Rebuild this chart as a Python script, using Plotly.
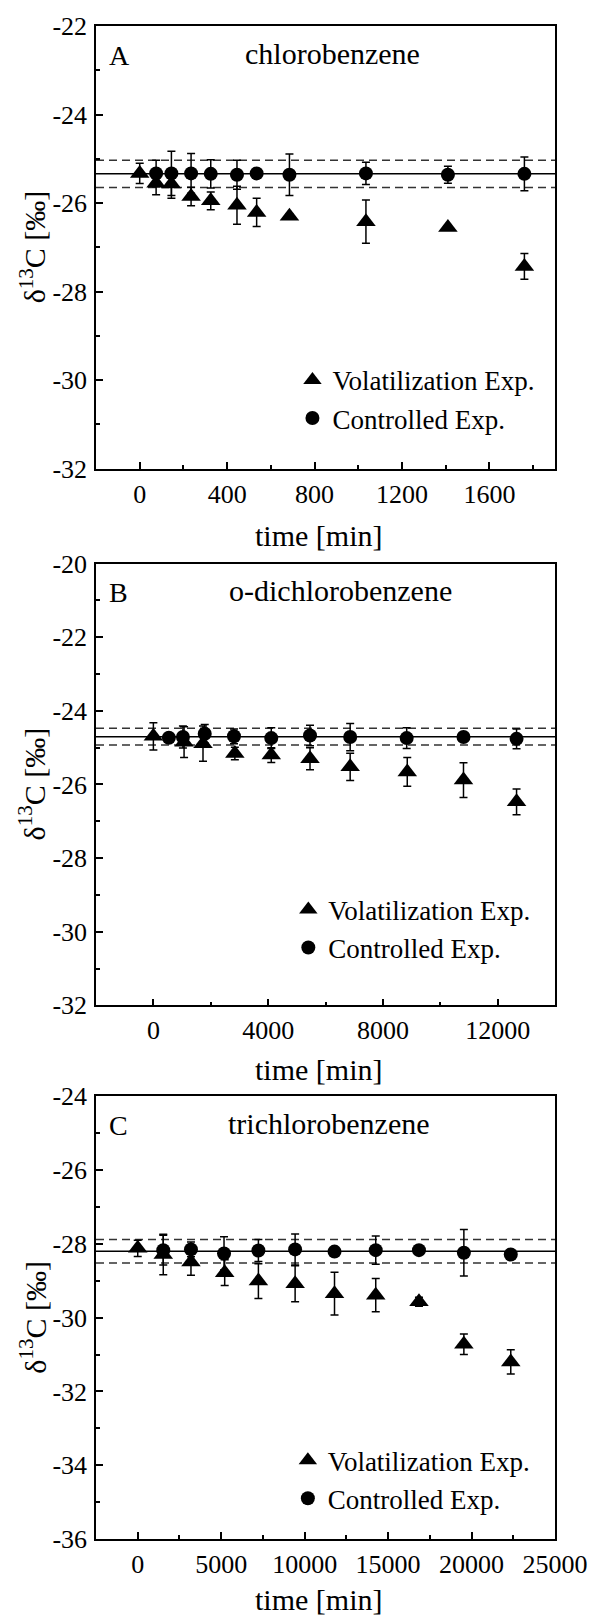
import plotly.graph_objects as go

FONT = "Liberation Serif, Times New Roman, serif"

# ---------------- Panel A: chlorobenzene ----------------
time_vol_A = [0, 75, 145, 235, 325, 445, 535, 685, 1035, 1410, 1760]
d13C_vol_A = [-25.33, -25.55, -25.57, -25.85, -25.95, -26.05, -26.21, -26.30, -26.42, -26.55, -27.43]
err_vol_A = [0.23, 0.26, 0.32, 0.21, 0.20, 0.43, 0.32, 0.05, 0.49, 0.04, 0.29]
time_con_A = [75, 145, 235, 325, 445, 535, 685, 1035, 1410, 1760]
d13C_con_A = [-25.33, -25.33, -25.33, -25.34, -25.36, -25.33, -25.36, -25.33, -25.36, -25.34]
err_con_A = [0.30, 0.50, 0.45, 0.32, 0.33, 0.08, 0.47, 0.25, 0.19, 0.38]

# ---------------- Panel B: o-dichlorobenzene ----------------
time_vol_B = [0, 1070, 1730, 2840, 4110, 5460, 6860, 8850, 10810, 12660]
d13C_vol_B = [-24.69, -24.85, -24.89, -25.16, -25.20, -25.30, -25.52, -25.66, -25.88, -26.47]
err_vol_B = [0.37, 0.42, 0.48, 0.17, 0.20, 0.30, 0.37, 0.39, 0.47, 0.35]
time_con_B = [540, 1030, 1790, 2810, 4110, 5460, 6860, 8830, 10810, 12660]
d13C_con_B = [-24.73, -24.71, -24.62, -24.69, -24.74, -24.67, -24.71, -24.74, -24.71, -24.76]
err_con_B = [0.10, 0.30, 0.25, 0.20, 0.28, 0.28, 0.37, 0.28, 0.10, 0.27]

# ---------------- Panel C: trichlorobenzene ----------------
time_vol_C = [0, 1530, 3190, 5210, 7230, 9430, 11790, 14260, 16850, 19540, 22350]
d13C_vol_C = [-28.12, -28.29, -28.49, -28.78, -29.01, -29.08, -29.35, -29.39, -29.57, -30.72, -31.20]
err_vol_C = [0.22, 0.55, 0.36, 0.35, 0.47, 0.49, 0.58, 0.45, 0.12, 0.28, 0.33]
time_con_C = [1530, 3190, 5170, 7230, 9430, 11790, 14260, 16850, 19540, 22350]
d13C_con_C = [-28.17, -28.15, -28.26, -28.18, -28.15, -28.21, -28.17, -28.17, -28.24, -28.29]
err_con_C = [0.40, 0.20, 0.45, 0.30, 0.42, 0.03, 0.38, 0.03, 0.63, 0.10]

# Mean of controlled experiment and its uncertainty band (horizontal lines)
mean_lines = [-25.34, -24.70, -28.20]
sd_lines = [0.31, 0.23, 0.32]

# Text
panel_letters = ["A", "B", "C"]
panel_names = ["chlorobenzene", "o-dichlorobenzene", "trichlorobenzene"]
series_names = ["Volatilization Exp.", "Controlled Exp."]
x_title = "time [min]"
y_title = "δ<sup>13</sup>C [‰]"

# Axes
x_ranges = [[-200, 1900], [-2000, 14000], [-2500, 25000]]
x_tickvals = [[0, 400, 800, 1200, 1600], [0, 4000, 8000, 12000],
              [0, 5000, 10000, 15000, 20000, 25000]]
x_ticktext = [["0", "400", "800", "1200", "1600"], ["0", "4000", "8000", "12000"],
              ["0", "5000", "10000", "15000", "20000", "25000"]]
x_minor = [200, 2000, 2500]
y_ranges = [[-32, -22], [-32, -20], [-36, -24]]
y_tickvals = [[-32, -30, -28, -26, -24, -22], [-32, -30, -28, -26, -24, -22, -20],
              [-36, -34, -32, -30, -28, -26, -24]]
y_ticktext = [["-32", "-30", "-28", "-26", "-24", "-22"],
              ["-32", "-30", "-28", "-26", "-24", "-22", "-20"],
              ["-36", "-34", "-32", "-30", "-28", "-26", "-24"]]

vol_t = [time_vol_A, time_vol_B, time_vol_C]
vol_y = [d13C_vol_A, d13C_vol_B, d13C_vol_C]
vol_e = [err_vol_A, err_vol_B, err_vol_C]
con_t = [time_con_A, time_con_B, time_con_C]
con_y = [d13C_con_A, d13C_con_B, d13C_con_C]
con_e = [err_con_A, err_con_B, err_con_C]

# Layout geometry (pixels)
W, H = 600, 1620
ML, MR, MT, MB = 96, 37, 25, 81
PH = H - MT - MB
panel_px = [(25, 468), (563, 1005), (1096, 1539)]
domains = [[(H - MB - b) / PH, (H - MB - t) / PH] for t, b in panel_px]
legend_pos = [(0.428, 0.782), (0.419, 0.432), (0.418, 0.068)]
legend_keys = ["legend", "legend2", "legend3"]
name_x = [0.515, 0.532, 0.507]
xtitle_shift = [-67, -64, -60]

fig = go.Figure()
layout = dict(
    width=W, height=H,
    margin=dict(l=ML, r=MR, t=MT, b=MB),
    paper_bgcolor="white", plot_bgcolor="white",
    font=dict(family=FONT, color="black", size=26),
    showlegend=True,
)
annotations = []
shapes = []

for i in range(3):
    sfx = "" if i == 0 else str(i + 1)
    xa, ya = "x" + sfx, "y" + sfx
    lg = legend_keys[i]
    fig.add_trace(go.Scatter(
        x=vol_t[i], y=vol_y[i], mode="markers", name=series_names[0],
        xaxis=xa, yaxis=ya, legend=lg,
        marker=dict(symbol="triangle-up", size=17, color="black"),
        error_y=dict(type="data", array=vol_e[i], visible=True, color="black",
                     thickness=1.5, width=4),
    ))
    fig.add_trace(go.Scatter(
        x=con_t[i], y=con_y[i], mode="markers", name=series_names[1],
        xaxis=xa, yaxis=ya, legend=lg,
        marker=dict(symbol="circle", size=14, color="black"),
        error_y=dict(type="data", array=con_e[i], visible=True, color="black",
                     thickness=1.5, width=4),
    ))
    axis_common = dict(
        showline=True, linecolor="black", linewidth=1.5, mirror=True,
        showgrid=False, zeroline=False, ticks="inside", ticklen=7,
        tickwidth=1.5, tickcolor="black",
        tickfont=dict(family=FONT, size=26, color="black"),
    )
    layout["xaxis" + sfx] = dict(
        axis_common, domain=[0, 1], anchor=ya, range=x_ranges[i],
        tickmode="array", tickvals=x_tickvals[i], ticktext=x_ticktext[i],
        minor=dict(tickmode="linear", tick0=0, dtick=x_minor[i], ticks="inside",
                   ticklen=4, tickwidth=1.5, tickcolor="black", showgrid=False),
        ticklabelstandoff=1,
    )
    layout["yaxis" + sfx] = dict(
        axis_common, domain=domains[i], anchor=xa, range=y_ranges[i],
        tickmode="array", tickvals=y_tickvals[i], ticktext=y_ticktext[i],
        minor=dict(tickmode="linear", tick0=0, dtick=1, ticks="inside",
                   ticklen=4, tickwidth=1.5, tickcolor="black", showgrid=False),
        ticklabelstandoff=2,
    )
    layout[lg] = dict(
        x=legend_pos[i][0], y=legend_pos[i][1], xanchor="left", yanchor="top",
        bgcolor="rgba(0,0,0,0)", borderwidth=0,
        font=dict(family=FONT, size=27, color="black"),
        itemwidth=30, tracegroupgap=0,
    )
    # horizontal mean / band lines
    m, s = mean_lines[i], sd_lines[i]
    shapes.append(dict(type="line", xref=xa + " domain", yref=ya, x0=0, x1=1,
                       y0=m, y1=m, line=dict(color="black", width=1.5), layer="below"))
    for yy in (m + s, m - s):
        shapes.append(dict(type="line", xref=xa + " domain", yref=ya, x0=0, x1=1,
                           y0=yy, y1=yy, line=dict(color="#333333", width=1.5, dash="8px,5px"),
                           layer="below"))
    # panel letter and compound name
    annotations.append(dict(text=panel_letters[i], xref=xa + " domain", yref=ya + " domain",
                            x=0.023, y=1, xanchor="left", yanchor="middle", yshift=-29,
                            showarrow=False, font=dict(family=FONT, size=28, color="black")))
    annotations.append(dict(text=panel_names[i], xref=xa + " domain", yref=ya + " domain",
                            x=name_x[i], y=1, xanchor="center", yanchor="middle", yshift=-27,
                            showarrow=False, font=dict(family=FONT, size=30, color="black")))
    # axis titles
    annotations.append(dict(text=x_title, xref=xa + " domain", yref=ya + " domain",
                            x=0.485, y=0, xanchor="center", yanchor="middle",
                            yshift=xtitle_shift[i],
                            showarrow=False, font=dict(family=FONT, size=30, color="black")))
    annotations.append(dict(text=y_title, xref=xa + " domain", yref=ya + " domain",
                            x=0, y=0.5, xanchor="center", yanchor="middle", xshift=-63,
                            textangle=-90, showarrow=False,
                            font=dict(family=FONT, size=30, color="black")))

layout["shapes"] = shapes
layout["annotations"] = annotations
fig.update_layout(**layout)
# remove the browser's default 8px body margin so the figure fills the window exactly
fig.write_html("out.html", config={"displayModeBar": False},
               post_script="document.body.style.margin='0px';")
